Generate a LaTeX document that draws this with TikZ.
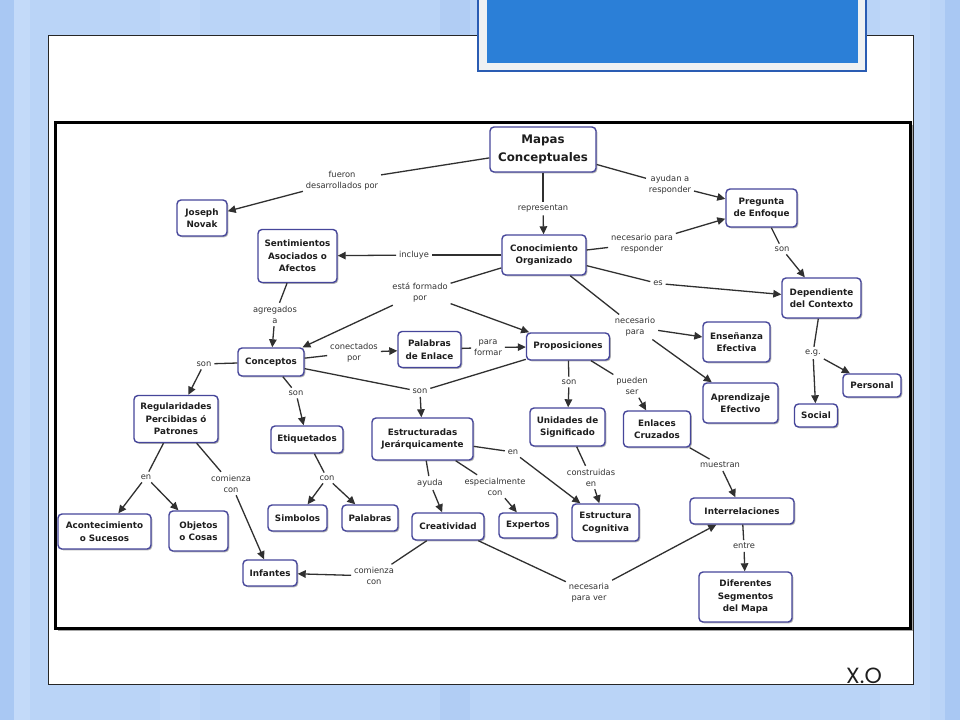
\documentclass[tikz,border=0pt]{standalone}
\usepackage{fontspec}
\setmainfont{DejaVu Sans}
\newfontfamily\xofont{Poppins}
\usetikzlibrary{arrows.meta,shadows}
\definecolor{bgblue}{HTML}{BAD4F7}
\definecolor{bgblueA}{HTML}{A9C8F3}
\definecolor{bgblueB}{HTML}{C3DAF9}
\definecolor{hdrblue}{HTML}{2B7FD7}
\definecolor{hdrframe}{HTML}{2A5CB3}
\definecolor{hdrgray}{HTML}{EEF1F3}
\definecolor{nodeborder}{HTML}{46469A}
\definecolor{txtdark}{HTML}{1E1E1E}
\definecolor{txtgray}{HTML}{333333}
\definecolor{linegray}{HTML}{303030}
\tikzset{
  concept/.style={draw=nodeborder, line width=1.4pt, rounded corners=4pt, fill=white,
    align=center, inner sep=0pt, text=txtdark,
    font=\fontsize{8.8}{12.5}\selectfont\bfseries,
    drop shadow={shadow xshift=1.3pt, shadow yshift=-1.3pt, opacity=0.3, fill=black}},
  lbl/.style={align=center, inner sep=2pt, outer sep=1pt, text=txtgray,
    font=\fontsize{8.3}{11}\selectfont},
  ln/.style={draw=linegray, line width=1.3pt},
  arr/.style={ln, -{Triangle[length=8pt,width=7.5pt]}}
}
\begin{document}
\begin{tikzpicture}[x=1pt,y=-1pt]
\useasboundingbox (0,0) rectangle (960,720);
% background
\fill[bgblue] (0,0) rectangle (960,720);
\fill[bgblueA] (0,0) rectangle (14,720);
\fill[bgblueB] (14,0) rectangle (30,720);
\fill[bgblueB,opacity=0.6] (160,0) rectangle (200,720);
\fill[bgblueA,opacity=0.5] (440,0) rectangle (470,720);
\fill[bgblueB,opacity=0.6] (880,0) rectangle (930,720);
\fill[bgblueA] (945,0) rectangle (960,720);
% white panel
\draw[fill=white, draw=black!85, line width=0.8pt] (48,35) rectangle (913,684);
% header box
\draw[fill=hdrgray, draw=hdrframe, line width=1.6pt] (478,-5) rectangle (866,71);
\fill[hdrblue] (487,-5) rectangle (858,63);
% diagram frame
\fill[black!35] (58,125) rectangle (913,631);
\draw[fill=white, draw=black, line width=3pt] (55,122) rectangle (910,628);
% X.O
\node[text=txtdark, font=\xofont\fontsize{22}{22}\selectfont] (xo) at (864,676) {X.O};

% concepts
\node[concept, minimum width=106pt, minimum height=45pt, font=\fontsize{11.8}{18}\selectfont\bfseries] (mapas) at (543,149.5) {Mapas\\Conceptuales};
\node[concept, minimum width=50pt, minimum height=36pt] (joseph) at (202,218) {Joseph\\Novak};
\node[concept, minimum width=79pt, minimum height=53pt] (sent) at (297.5,256) {Sentimientos\\Asociados o\\Afectos};
\node[concept, minimum width=84pt, minimum height=40pt] (cono) at (544,255) {Conocimiento\\Organizado};
\node[concept, minimum width=71pt, minimum height=38pt] (preg) at (761.5,208) {Pregunta\\de Enfoque};
\node[concept, minimum width=79pt, minimum height=40pt] (dep) at (821.5,298) {Dependiente\\del Contexto};
\node[concept, minimum width=67pt, minimum height=40pt] (ens) at (736.5,342) {Enseñanza\\Efectiva};
\node[concept, minimum width=75pt, minimum height=40pt] (apr) at (740.5,403) {Aprendizaje\\Efectivo};
\node[concept, minimum width=58pt, minimum height=23pt] (pers) at (872,385.5) {Personal};
\node[concept, minimum width=43pt, minimum height=23pt] (soc) at (816,415.5) {Social};
\node[concept, minimum width=66pt, minimum height=28pt] (conc) at (271,362) {Conceptos};
\node[concept, minimum width=63pt, minimum height=36pt] (pal) at (429.5,349.5) {Palabras\\de Enlace};
\node[concept, minimum width=83pt, minimum height=27pt] (prop) at (568,346.5) {Proposiciones};
\node[concept, minimum width=84pt, minimum height=47pt] (reg) at (176,419) {Regularidades\\Percibidas ó\\Patrones};
\node[concept, minimum width=72pt, minimum height=27pt] (etiq) at (307,439.5) {Etiquetados};
\node[concept, minimum width=101pt, minimum height=42pt] (estr) at (422.5,439) {Estructuradas\\Jerárquicamente};
\node[concept, minimum width=75pt, minimum height=38pt] (unid) at (567.5,427) {Unidades de\\Significado};
\node[concept, minimum width=67pt, minimum height=36pt] (enl) at (657,429) {Enlaces\\Cruzados};
\node[concept, minimum width=93pt, minimum height=35pt] (acon) at (104.5,531.5) {Acontecimiento\\o Sucesos};
\node[concept, minimum width=59pt, minimum height=40pt] (obj) at (198.5,531) {Objetos\\o Cosas};
\node[concept, minimum width=59pt, minimum height=26pt] (simb) at (297.5,518) {Simbolos};
\node[concept, minimum width=56pt, minimum height=26pt] (palb) at (370,518) {Palabras};
\node[concept, minimum width=72pt, minimum height=27pt] (crea) at (448,526.5) {Creatividad};
\node[concept, minimum width=58pt, minimum height=25pt] (exp) at (528,525.5) {Expertos};
\node[concept, minimum width=67pt, minimum height=37pt] (estc) at (605.5,522.5) {Estructura\\Cognitiva};
\node[concept, minimum width=104pt, minimum height=26pt] (inter) at (742,511) {Interrelaciones};
\node[concept, minimum width=54pt, minimum height=26pt] (inf) at (270,573) {Infantes};
\node[concept, minimum width=93pt, minimum height=50pt] (dif) at (745.5,597) {Diferentes\\Segmentos\\del Mapa};

% linking labels
\node[lbl] (l1) at (342,181) {fueron\\desarrollados por};
\node[lbl] (l2) at (543,208.5) {representan};
\node[lbl] (l3) at (670,185) {ayudan a\\responder};
\node[lbl] (l4) at (414,255) {incluye};
\node[lbl] (l5) at (642,243.5) {necesario para\\responder};
\node[lbl] (l6) at (658,283.5) {es};
\node[lbl] (l7) at (782,249) {son};
\node[lbl] (l8) at (420,292.5) {está formado\\por};
\node[lbl] (l9) at (635,327) {necesario\\para};
\node[lbl] (l10) at (813,353) {e.g.};
\node[lbl] (l11) at (275,314.5) {agregados\\a};
\node[lbl] (l12) at (354,352.5) {conectados\\por};
\node[lbl] (l13) at (488,347.5) {para\\formar};
\node[lbl] (l14) at (204,364) {son};
\node[lbl] (l15) at (296,393) {son};
\node[lbl] (l16) at (420,391.5) {son};
\node[lbl] (l17) at (569,382) {son};
\node[lbl] (l18) at (632,386) {pueden\\ser};
\node[lbl] (l19) at (146,477) {en};
\node[lbl] (l20) at (231,483.5) {comienza\\con};
\node[lbl] (l21) at (327,478) {con};
\node[lbl] (l22) at (430,483) {ayuda};
\node[lbl] (l23) at (495,486.5) {especialmente\\con};
\node[lbl] (l24) at (513,452) {en};
\node[lbl] (l25) at (591,477.5) {construidas\\en};
\node[lbl] (l26) at (720,465) {muestran};
\node[lbl] (l27) at (744,546) {entre};
\node[lbl] (l28) at (374,576) {comienza\\con};
\node[lbl] (l29) at (589,592.5) {necesaria\\para ver};

% connectors
\draw[ln] (mapas) -- (l1); \draw[arr] (l1) -- (joseph);
\draw[ln] (mapas) -- (l2); \draw[arr] (l2) -- (cono);
\draw[ln] (mapas) -- (l3); \draw[arr] (l3) -- (preg);
\draw[ln] (cono) -- (l4); \draw[arr] (l4) -- (sent);
\draw[ln] (cono) -- (l5); \draw[arr] (l5) -- (preg);
\draw[ln] (cono) -- (l6); \draw[arr] (l6) -- (dep);
\draw[ln] (preg) -- (l7); \draw[arr] (l7) -- (dep);
\draw[ln] (cono) -- (l8); \draw[arr] (l8) -- (conc); \draw[arr] (l8) -- (prop);
\draw[ln] (cono) -- (l9); \draw[arr] (l9) -- (ens); \draw[arr] (l9) -- (apr);
\draw[ln] (dep) -- (l10); \draw[arr] (l10) -- (soc); \draw[arr] (l10) -- (pers);
\draw[ln] (sent) -- (l11); \draw[arr] (l11) -- (conc);
\draw[ln] (conc) -- (l12); \draw[arr] (l12) -- (pal);
\draw[ln] (pal) -- (l13); \draw[arr] (l13) -- (prop);
\draw[ln] (conc) -- (l14); \draw[arr] (l14) -- (reg);
\draw[ln] (conc) -- (l15); \draw[arr] (l15) -- (etiq);
\draw[ln] (conc) -- (l16); \draw[ln] (prop) -- (l16); \draw[arr] (l16) -- (estr);
\draw[ln] (prop) -- (l17); \draw[arr] (l17) -- (unid);
\draw[ln] (prop) -- (l18); \draw[arr] (l18) -- (enl);
\draw[ln] (reg) -- (l19); \draw[arr] (l19) -- (acon); \draw[arr] (l19) -- (obj);
\draw[ln] (reg) -- (l20); \draw[arr] (l20) -- (inf);
\draw[ln] (etiq) -- (l21); \draw[arr] (l21) -- (simb); \draw[arr] (l21) -- (palb);
\draw[ln] (estr) -- (l22); \draw[arr] (l22) -- (crea);
\draw[ln] (estr) -- (l23); \draw[arr] (l23) -- (exp);
\draw[ln] (estr) -- (l24); \draw[arr] (l24) -- (estc);
\draw[ln] (unid) -- (l25); \draw[arr] (l25) -- (estc);
\draw[ln] (enl) -- (l26); \draw[arr] (l26) -- (inter);
\draw[ln] (inter) -- (l27); \draw[arr] (l27) -- (dif);
\draw[ln] (crea) -- (l28); \draw[arr] (l28) -- (inf);
\draw[ln] (crea) -- (l29); \draw[arr] (l29) -- (inter);
\end{tikzpicture}
\end{document}
